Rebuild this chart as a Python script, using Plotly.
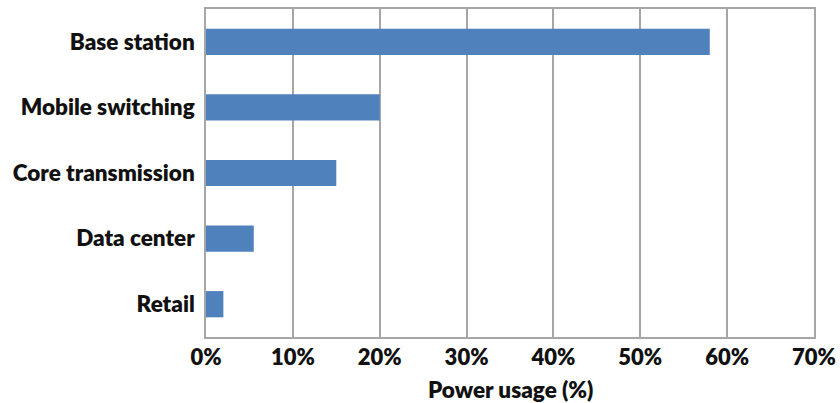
import plotly.graph_objects as go

# Share of network power consumption by component
categories = ["Base station", "Mobile switching", "Core transmission", "Data center", "Retail"]
power_usage = [58, 20, 15, 5.5, 2]
x_ticks = [0, 10, 20, 30, 40, 50, 60, 70]
x_title = "Power usage (%)"

BAR_COLOR = "#4F81BD"
GRID_COLOR = "#A6A6A6"
TEXT_COLOR = "#111111"
FONT = "Lato"

fig = go.Figure(
    go.Bar(
        x=power_usage,
        y=categories,
        orientation="h",
        width=0.4,
        marker=dict(color=BAR_COLOR, line=dict(width=0)),
    )
)

fig.update_layout(
    width=840,
    height=403,
    margin=dict(l=206, r=26, t=9, b=66),
    paper_bgcolor="white",
    plot_bgcolor="white",
    showlegend=False,
    font=dict(family=FONT, color=TEXT_COLOR, size=22),
)

fig.update_xaxes(
    range=[0, 70],
    tickvals=x_ticks,
    ticktext=[f"{v}%" for v in x_ticks],
    showgrid=True,
    gridcolor=GRID_COLOR,
    gridwidth=1.5,
    zeroline=False,
    showline=True,
    linecolor=GRID_COLOR,
    linewidth=1.5,
    mirror=True,
    ticks="",
    automargin=False,
    ticklabelstandoff=0,
    tickfont=dict(family=FONT, size=22, weight=800, color=TEXT_COLOR),
)

fig.update_yaxes(
    categoryorder="array",
    categoryarray=categories,
    autorange="reversed",
    showgrid=False,
    zeroline=False,
    showline=True,
    linecolor=GRID_COLOR,
    linewidth=1.5,
    mirror=True,
    ticks="",
    automargin=False,
    ticklabelstandoff=5,
    tickfont=dict(family=FONT, size=22.5, weight=800, color=TEXT_COLOR),
)

# x-axis title, centred under the plot area
fig.add_annotation(
    text=x_title,
    xref="paper",
    yref="paper",
    x=0.5,
    y=-0.161,
    xanchor="center",
    yanchor="middle",
    showarrow=False,
    borderpad=0,
    font=dict(family=FONT, size=22.5, weight=800, color=TEXT_COLOR),
)

fig.write_html("out.html")
